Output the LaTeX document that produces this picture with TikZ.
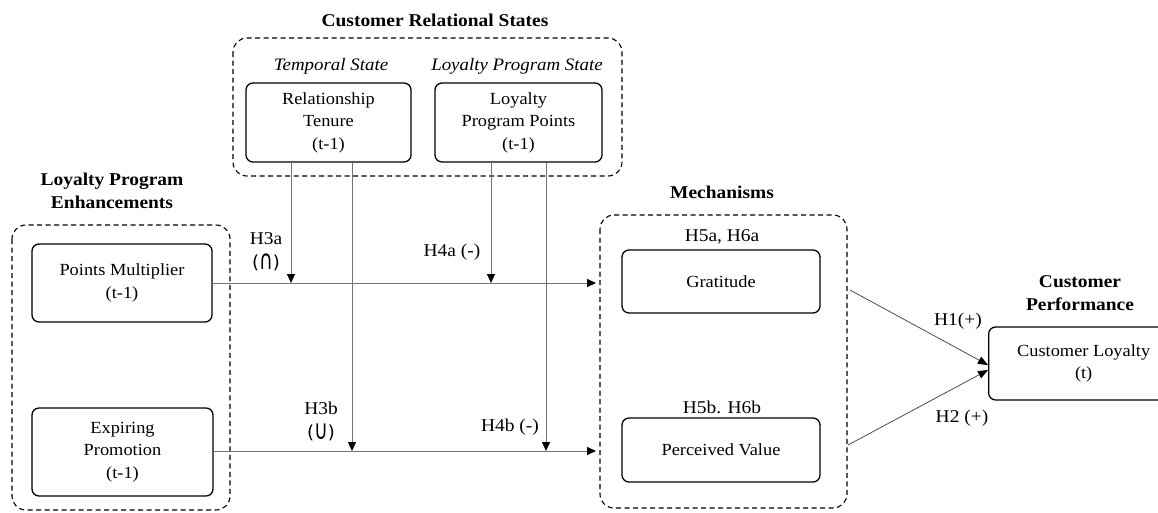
\documentclass[tikz,border=0pt]{standalone}
\usepackage{fontspec}
\setmainfont{Liberation Serif}[FakeStretch=1.08]
\newfontfamily\symf{DejaVu Sans}
\usetikzlibrary{arrows.meta}
% tall set symbols inside sans parentheses
\newcommand{\tallsym}[1]{{\symf\fontsize{18}{24}\selectfont(\raisebox{-0.12ex}{\scalebox{1.05}[1.5]{#1}})}}
\begin{document}
\begin{tikzpicture}[x=1pt,y=-1pt,
  var/.style={draw, line width=1.3pt, rounded corners=7pt, align=center,
              inner sep=0pt, font=\fontsize{17}{22.5}\selectfont},
  group/.style={draw, line width=1.1pt, dash pattern=on 5pt off 3.5pt, rounded corners=14pt},
  head/.style={font=\fontsize{18}{23}\selectfont\bfseries, align=center},
  state/.style={font=\fontsize{17.5}{20}\selectfont\itshape},
  lbl/.style={font=\fontsize{18}{24}\selectfont, align=center, inner sep=0pt},
  link/.style={draw=black!55, line width=0.9pt,
               -{Triangle[length=9pt,width=8pt,fill=black,color=black]}},
  path/.style={draw=black!70, line width=0.8pt,
               -{Triangle[length=10pt,width=8pt,fill=black,color=black]}},
]
\useasboundingbox (0,0) rectangle (1158,512);

% group frames
\draw[group] (233,38) rectangle (622,176);
\draw[group] (12,225) rectangle (230,510);
\draw[group] (600,215) rectangle (847,508);

% group headings
\node[head] (hcrs) at (435,20) {Customer Relational States};
\node[head] (hlpe) at (112,191) {Loyalty Program\\Enhancements};
\node[head] (hmech) at (722,192) {Mechanisms};
\node[head] (hperf) at (1080,293) {Customer\\Performance};
\node[state] (tstate) at (331,66) {Temporal State};
\node[state] (lpstate) at (517,66) {Loyalty Program State};

% variables
\node[var, minimum width=165pt, minimum height=79pt] (tenure) at (328.5,122.5)
  {Relationship\\Tenure\\(t-1)};
\node[var, minimum width=167pt, minimum height=79pt] (points) at (518.5,122.5)
  {Loyalty\\Program Points\\(t-1)};
\node[var, minimum width=180pt, minimum height=78pt] (mult) at (122,283)
  {Points Multiplier\\(t-1)};
\node[var, minimum width=181pt, minimum height=88pt] (promo) at (122.5,452)
  {Expiring\\Promotion\\(t-1)};
\node[var, minimum width=198pt, minimum height=63pt] (grat) at (721,281.5) {Gratitude};
\node[var, minimum width=198pt, minimum height=64pt] (value) at (721,450) {Perceived Value};
\node[var, minimum width=190pt, minimum height=73pt, anchor=west] (loyal) at (988,363.5)
  {Customer Loyalty\\(t)};

% hypothesis labels
\node[lbl] (h5a) at (722,237) {H5a, H6a};
\node[lbl] (h5b) at (722,407) {H5b. H6b};
\node[lbl] (h3a) at (266,252) {H3a\\\tallsym{∩}};
\node[lbl] (h3b) at (321,421) {H3b\\\tallsym{∪}};
\node[lbl] (h4a) at (452,252) {H4a (-)};
\node[lbl] (h4b) at (510,427) {H4b (-)};
\node[lbl] (h1) at (958,321) {H1(+)};
\node[lbl] (h2) at (962,418) {H2 (+)};

% connector end points
\coordinate (in1) at (596,283);
\coordinate (in2) at (596,451);
\coordinate (ta) at (291,283);
\coordinate (tb) at (352,451);
\coordinate (pa) at (491,283);
\coordinate (pb) at (546,451);
\coordinate (g0) at (850,290);
\coordinate (v0) at (848,445);
\coordinate (l1) at (988,365);
\coordinate (l2) at (988,370);

% main paths
\draw[link] (mult.east |- in1) -- (in1);
\draw[link] (promo.east |- in2) -- (in2);

% moderating effects
\draw[link] (tenure.south -| ta) -- (ta);
\draw[link] (tenure.south -| tb) -- (tb);
\draw[link] (points.south -| pa) -- (pa);
\draw[link] (points.south -| pb) -- (pb);

% mechanisms to loyalty
\draw[path] (g0) -- (l1);
\draw[path] (v0) -- (l2);
\end{tikzpicture}
\end{document}
